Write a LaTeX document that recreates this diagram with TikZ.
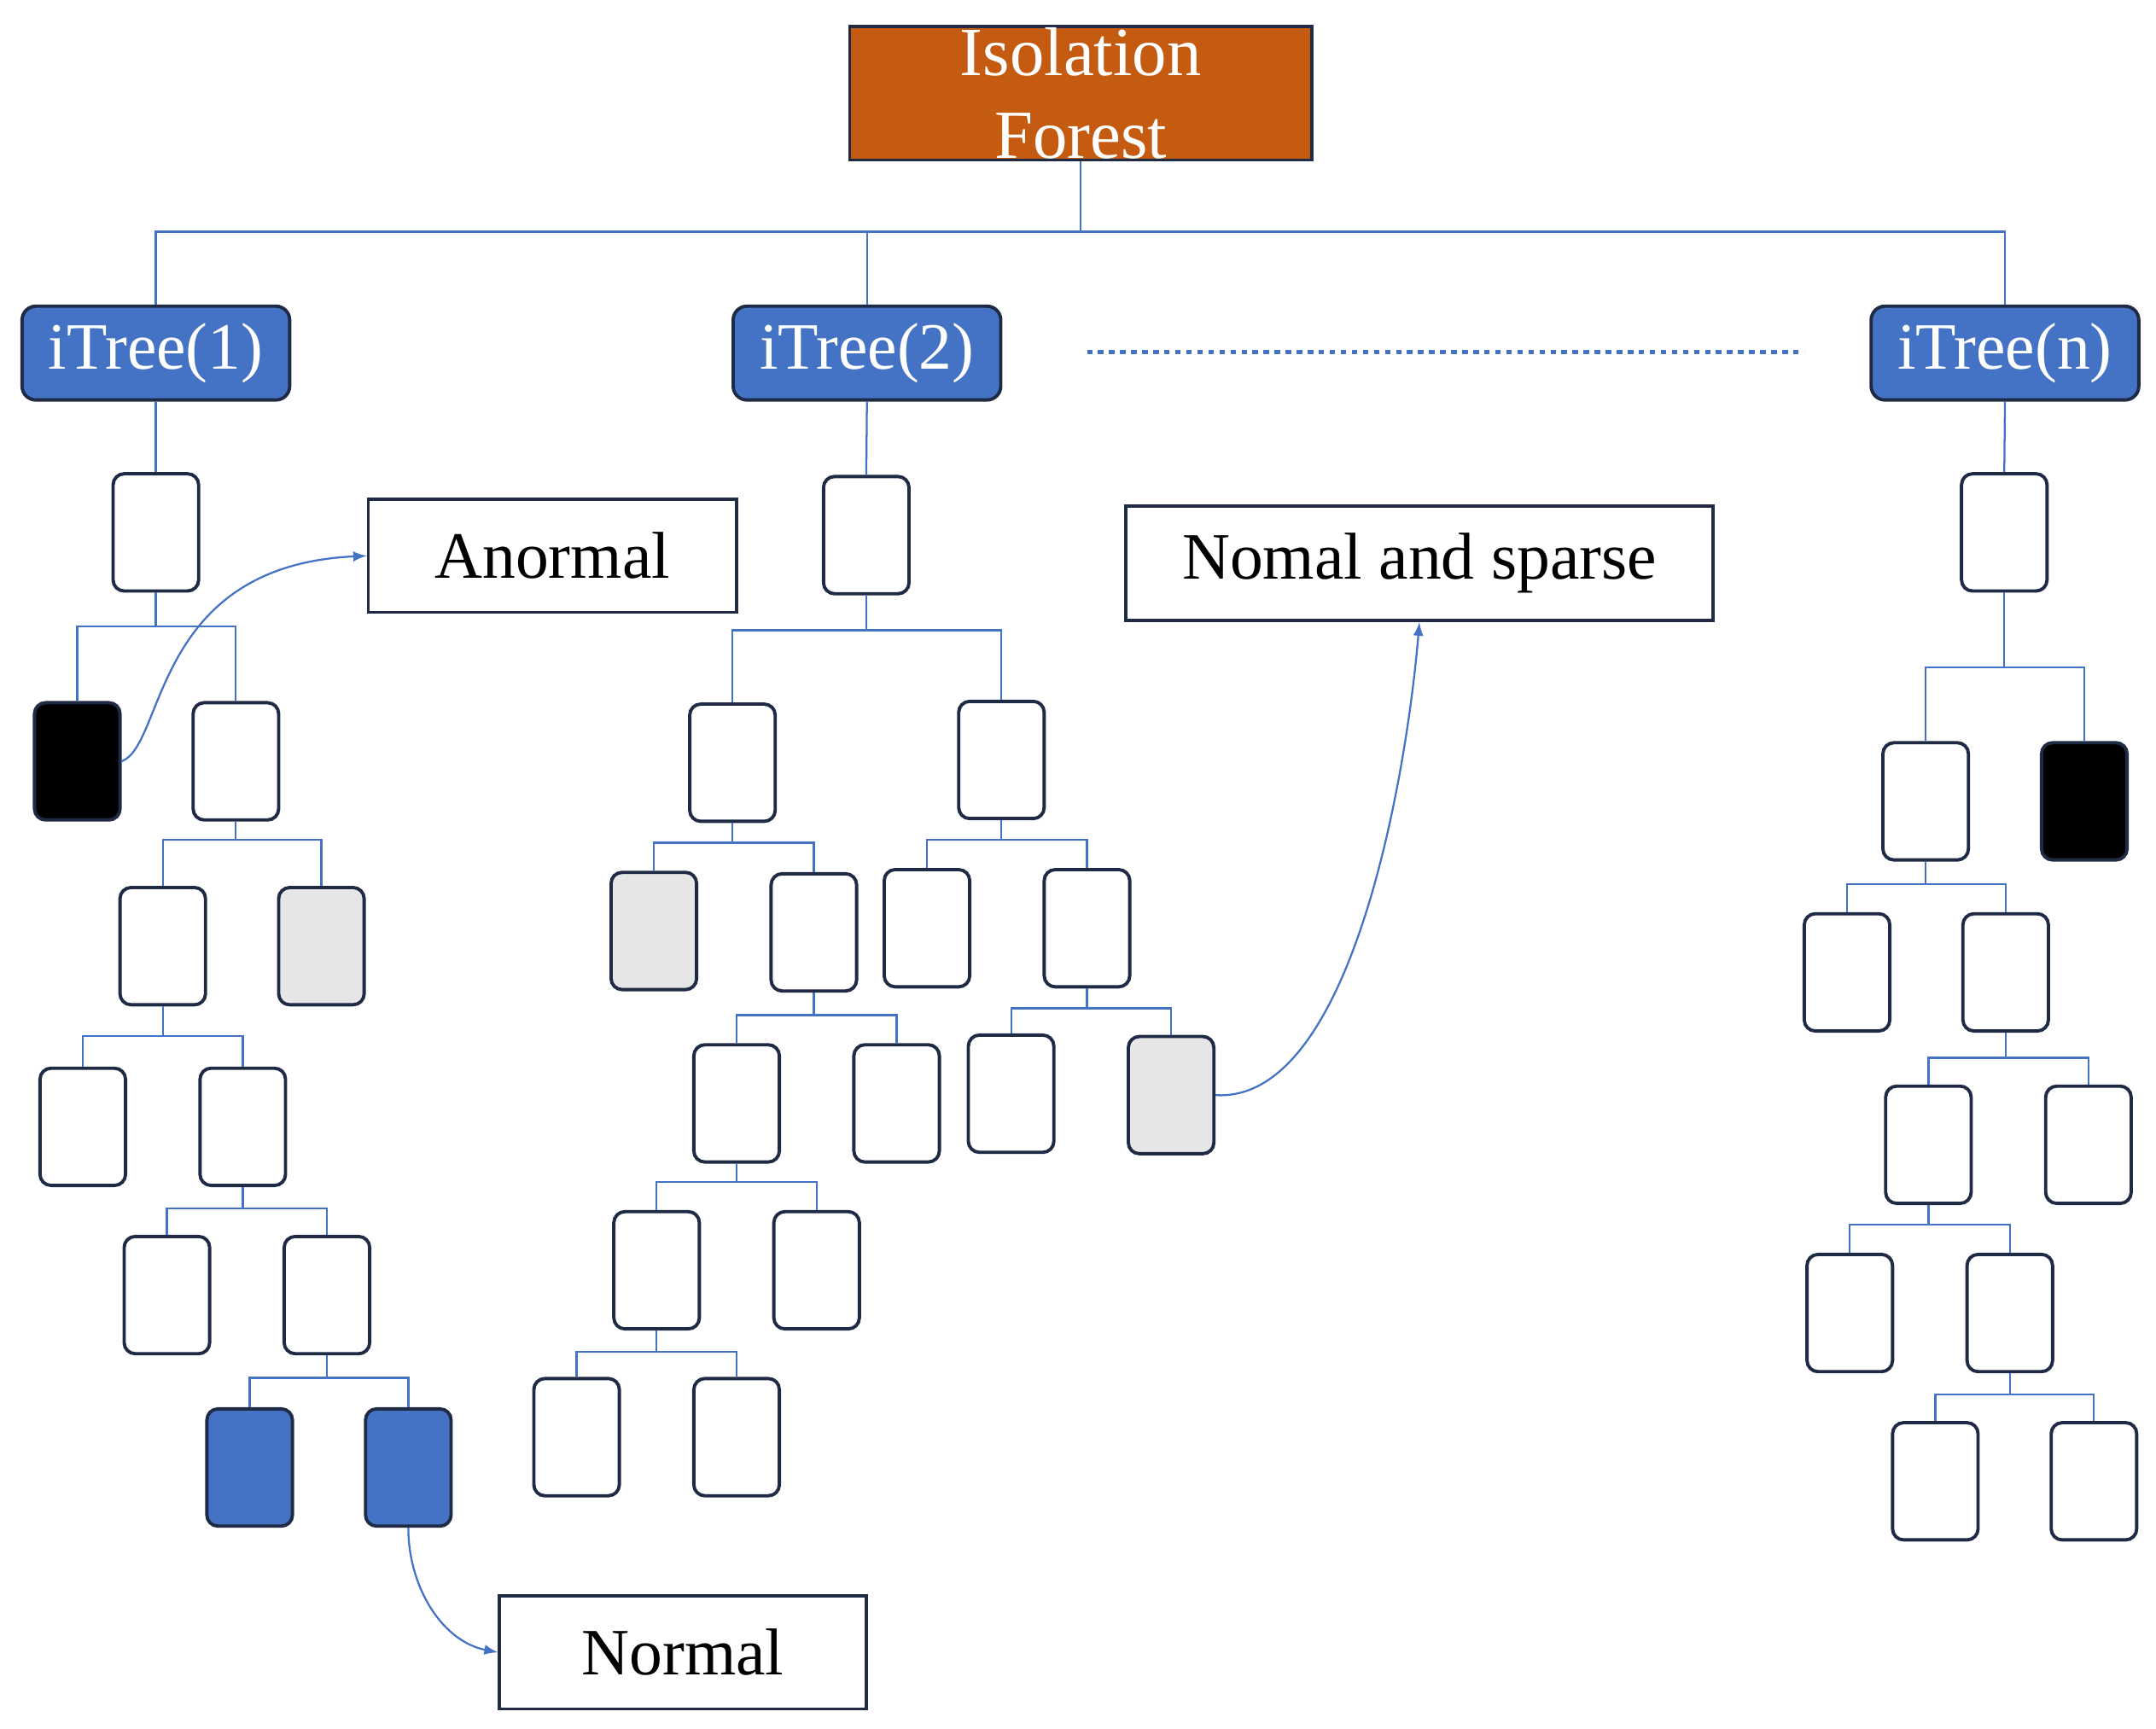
\documentclass[tikz,border=0pt]{standalone}
\usepackage{fontspec}
\setmainfont{Liberation Serif}
\definecolor{cblue}{HTML}{4472C4}
\definecolor{navy}{HTML}{1F2A44}
\definecolor{corange}{HTML}{C55A11}
\definecolor{cgray}{HTML}{E6E6E6}
\begin{document}
\begin{tikzpicture}[x=0.5pt,y=-0.5pt,
  bx/.style={draw=navy,line width=1.2pt,rounded corners=4pt,minimum width=31pt,minimum height=42.5pt,inner sep=0pt},
  lab/.style={draw=navy,line width=1.1pt,fill=white,inner sep=0pt,font=\fontsize{24}{28}\selectfont},
  tree/.style={draw=navy,line width=1.2pt,rounded corners=5pt,fill=cblue,text=white,minimum width=97pt,minimum height=34pt,inner sep=0pt,font=\fontsize{24}{28}\selectfont},
  conn/.style={draw=cblue,line width=0.7pt},
  arr/.style={draw=cblue,line width=0.7pt,-latex}]
\useasboundingbox (0,0) rectangle (1563,1253);
\newcommand{\bxx}[4]{\node[bx,fill=#4] (#1) at (#2,#3) {};}
\newcommand{\splt}[4]{\coordinate (#1b) at (0,#4);
  \draw[conn] (#1.south) -- (#1.south|-#1b);
  \draw[conn] (#2.north) |- (#1.south|-#1b) -| (#3.north);}
% top
\node[draw=navy,line width=1.2pt,fill=corange,text=white,minimum width=167.5pt,minimum height=48.5pt,inner sep=0pt,align=center,font=\fontsize{25}{30}\selectfont] (IF) at (783.5,67.5) {Isolation\\Forest};
\node[tree] (T1) at (113,256) {iTree(1)};
\node[tree] (T2) at (628.5,256) {iTree(2)};
\node[tree] (Tn) at (1453.5,256) {iTree(n)};
\coordinate (bus) at (0,168);
\draw[conn] (IF.south) -- (IF.south|-bus);
\draw[conn] (T1.north) |- (IF.south|-bus) -| (Tn.north);
\draw[conn] (T2.north) -- (T2.north|-bus);
\draw[cblue,line width=1.5pt,dash pattern=on 2pt off 2pt] (788,255) coordinate (d1) -- (1308,255) coordinate (d2);
% tree 1
\bxx{a0}{113}{386}{white}
\draw[conn] (T1.south) -- (a0.north);
\bxx{a1}{56}{552}{black}\bxx{a2}{171}{552}{white}
\splt{a0}{a1}{a2}{454}
\bxx{a3}{118}{686}{white}\bxx{a4}{233}{686}{cgray}
\splt{a2}{a3}{a4}{609}
\bxx{a5}{60}{817}{white}\bxx{a6}{176}{817}{white}
\splt{a3}{a5}{a6}{751}
\bxx{a7}{121}{939}{white}\bxx{a8}{237}{939}{white}
\splt{a6}{a7}{a8}{876}
\bxx{a9}{181}{1064}{cblue}\bxx{a10}{296}{1064}{cblue}
\splt{a8}{a9}{a10}{999}
\node[lab,minimum width=133.5pt,minimum height=41pt] (anor) at (400.5,403) {Anormal};
\node[lab,minimum width=133pt,minimum height=41pt] (norm) at (495,1198) {Normal};
\draw[arr] (a1.east) .. controls (120,540) and (110,410) .. (anor.west);
\draw[arr] (a10.south) .. controls (296,1150) and (320,1190) .. (norm.west);
% tree 2
\bxx{b0}{628}{388}{white}
\draw[conn] (T2.south) -- (b0.north);
\bxx{b1}{531}{553}{white}\bxx{b2}{726}{551}{white}
\splt{b0}{b1}{b2}{457}
\bxx{b3}{474}{675}{cgray}\bxx{b4}{590}{676}{white}
\splt{b1}{b3}{b4}{611}
\bxx{b5}{672}{673}{white}\bxx{b6}{788}{673}{white}
\splt{b2}{b5}{b6}{609}
\bxx{b7}{534}{800}{white}\bxx{b8}{650}{800}{white}
\splt{b4}{b7}{b8}{736}
\bxx{b9}{733}{793}{white}\bxx{b10}{849}{794}{cgray}
\splt{b6}{b9}{b10}{731}
\bxx{b11}{476}{921}{white}\bxx{b12}{592}{921}{white}
\splt{b7}{b11}{b12}{857}
\bxx{b13}{418}{1042}{white}\bxx{b14}{534}{1042}{white}
\splt{b11}{b13}{b14}{980}
\node[lab,minimum width=213pt,minimum height=41.5pt] (spar) at (1029,408.5) {Nomal and sparse};
\draw[arr] (b10.east) .. controls (980,800) and (1020,560) .. (spar.south);
% tree n
\bxx{c0}{1453}{386}{white}
\draw[conn] (Tn.south) -- (c0.north);
\bxx{c1}{1396}{581}{white}\bxx{c2}{1511}{581}{black}
\splt{c0}{c1}{c2}{484}
\bxx{c3}{1339}{705}{white}\bxx{c4}{1454}{705}{white}
\splt{c1}{c3}{c4}{641}
\bxx{c5}{1398}{830}{white}\bxx{c6}{1514}{830}{white}
\splt{c4}{c5}{c6}{767}
\bxx{c7}{1341}{952}{white}\bxx{c8}{1457}{952}{white}
\splt{c5}{c7}{c8}{888}
\bxx{c9}{1403}{1074}{white}\bxx{c10}{1518}{1074}{white}
\splt{c8}{c9}{c10}{1011}
\end{tikzpicture}
\end{document}
